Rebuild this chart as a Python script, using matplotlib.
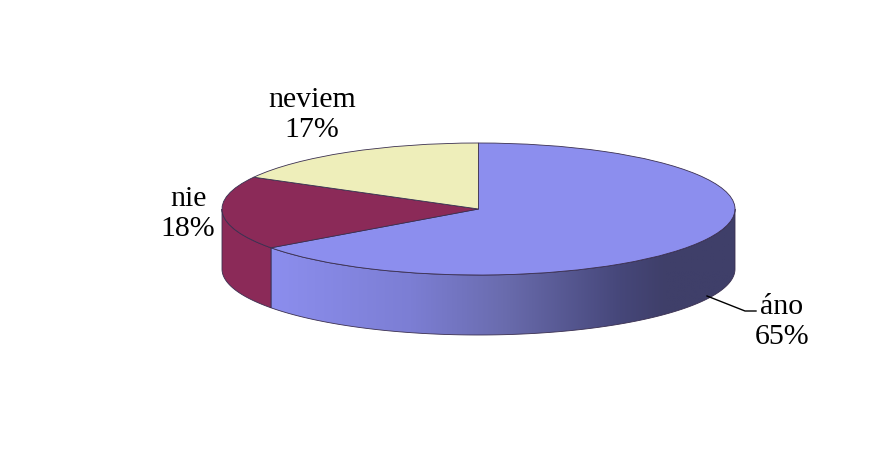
#! /usr/bin/env python
import numpy as np
import matplotlib
matplotlib.use('Agg')
import matplotlib.pyplot as plt
from matplotlib.colors import LinearSegmentedColormap
from matplotlib.patches import Polygon

labels = ['áno', 'nie', 'neviem']
values = [65, 18, 17]
colors = ['#8c8eee', '#8b2a58', '#eeeeba']

# pie geometry in pixels of the 881x467 picture
cx, cy = 478.5, 209.0
rx, ry = 256.5, 66.0
depth  = 60.0 / ry
edge   = '#3a2f50'

plt.rcParams['font.family'] = ['Liberation Serif', 'DejaVu Serif']

fig = plt.figure(figsize=(8.81, 4.67), dpi=100)
ax = fig.add_axes([0, 0, 1, 1])


def px(x, y):
    return (x - cx)/rx, (cy - y)/ry


# top of the pie
ax.pie(values, colors=colors, startangle=90, counterclock=False, radius=1,
       wedgeprops={'edgecolor': edge, 'linewidth': 0.6, 'zorder': 3})

# wall below the front half of the rim, one piece per slice
ends = 90 - np.cumsum([0] + values)*3.6
for i in range(len(values)):
    # bring the clockwise slice into the 180-360 range of the front rim
    lo = (ends[i+1] % 360)
    hi = lo + values[i]*3.6
    lo, hi = max(lo, 180), min(hi, 360)
    if hi <= lo:
        continue
    th = np.radians(np.linspace(lo, hi, 200))
    xs = np.cos(th)
    ys = np.sin(th)
    verts = np.r_[np.c_[xs, ys], np.c_[xs[::-1], ys[::-1] - depth]]
    if labels[i] == 'áno':
        shade = LinearSegmentedColormap.from_list(
            'wall', [(0, colors[i]), (0.3, '#7c7ed4'), (0.5, '#6a6cae'),
                     (0.75, '#46477a'), (0.85, '#3f3f69'), (1, '#3f3f69')])
        wall = Polygon(verts, closed=True, facecolor='none', edgecolor='none',
                       transform=ax.transData)
        ax.add_patch(wall)
        im = ax.imshow(np.linspace(0, 1, 256)[None, :], cmap=shade, aspect='auto',
                       extent=[xs.min(), xs.max(), -1 - depth, 0], zorder=1)
        im.set_clip_path(wall)
        ax.add_patch(Polygon(verts, closed=True, facecolor='none', edgecolor=edge,
                             linewidth=0.6, zorder=2))
    else:
        ax.add_patch(Polygon(verts, closed=True, facecolor=colors[i], edgecolor=edge,
                             linewidth=0.6, zorder=2))

ax.set_aspect('auto')
ax.set_xlim(px(0, 0)[0], px(881, 0)[0])
ax.set_ylim(px(0, 467)[1], px(0, 0)[1])
ax.axis('off')

# data labels
label_pos = [(782, 322), (188, 214), (312, 115)]
for lab, val, pos in zip(labels, values, label_pos):
    x, y = px(*pos)
    ax.text(x, y, f'{lab}\n{val}%', ha='center', va='center', fontsize=21.5,
            linespacing=1.23, color='black', zorder=5)

# leader line of the first label
lx, ly = zip(px(707, 296), px(745, 311), px(756, 311))
ax.plot(lx, ly, color='black', lw=1.0, zorder=4)

fig.savefig('out.png', dpi=100)
plt.close()
